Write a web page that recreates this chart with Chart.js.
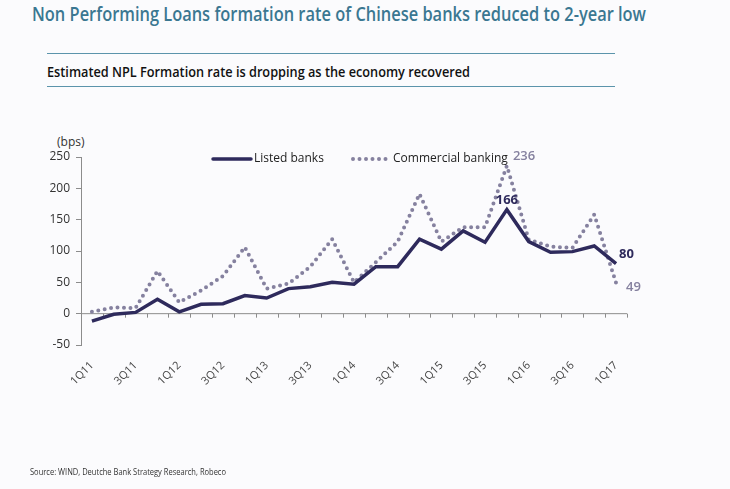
<!DOCTYPE html>
<html>
<head>
<meta charset="utf-8">
<script src="https://cdn.jsdelivr.net/npm/chart.js@4.4.1/dist/chart.umd.min.js"></script>
<style>
  html, body { margin: 0; padding: 0; background: #fbfbfd; }
  #wrap { position: relative; width: 730px; height: 489px; overflow: hidden; }
  #chart { position: absolute; left: 0; top: 0; }
  .fit { position: absolute; white-space: nowrap; transform-origin: 0 0; font-family: "Open Sans", sans-serif; }
  .title { left: 32px; top: 1px; font-size: 19px; font-weight: 600; color: #3a7791; }
  .rule { position: absolute; left: 47px; width: 568px; height: 0; border-top: 1px solid #5b94ab; }
  .subtitle { left: 47px; top: 62px; font-size: 14px; font-weight: 600; color: #111; }
  .unit { position: absolute; left: 57px; top: 133px; font-family: "Open Sans", sans-serif; font-size: 12px; color: #333; }
  .source { left: 30px; top: 465px; font-size: 9px; color: #333; }
</style>
</head>
<body>
<div id="wrap">
  <div class="fit title" data-w="614">Non Performing Loans formation rate of Chinese banks reduced to 2-year low</div>
  <div class="rule" style="top:53px"></div>
  <div class="fit subtitle" data-w="423">Estimated NPL Formation rate is dropping as the economy recovered</div>
  <div class="rule" style="top:86px"></div>
  <div class="unit">(bps)</div>
  <canvas id="chart" width="730" height="489"></canvas>
  <div class="fit source" data-w="196">Source: WIND, Deutche Bank Strategy Research, Robeco</div>
</div>
<script>
// squeeze the condensed headings to their widths
document.querySelectorAll('.fit').forEach(el => {
  const w = el.getBoundingClientRect().width;
  el.style.transform = 'scaleX(' + (el.dataset.w / w) + ')';
});

// categories (quarters)
const quarters = ['1Q11','2Q11','3Q11','4Q11','1Q12','2Q12','3Q12','4Q12','1Q13','2Q13','3Q13','4Q13',
                  '1Q14','2Q14','3Q14','4Q14','1Q15','2Q15','3Q15','4Q15','1Q16','2Q16','3Q16','4Q16','1Q17'];

// NPL formation rate, bps
const listedBanks = [-12, -1, 2, 23, 3, 15, 16, 29, 25, 40, 43, 50, 47, 75, 75, 119, 103, 132, 114, 166, 115, 98, 99, 108, 80];
const commercialBanking = [3, 10, 9, 68, 18, 37, 60, 106, 40, 48, 75, 119, 50, 82, 115, 191, 115, 138, 138, 236, 118, 107, 105, 158, 49];

// y axis ticks
const yTicks = [-50, 0, 50, 100, 150, 200, 250];

// labelled points: [dataset index, point index]
const callouts = [[0, 19], [0, 24], [1, 19], [1, 24]];

const navy = '#2e2a5c';
const lilac = '#85819f';
const axisGrey = '#8c8c8c';

// zero line with category ticks
const zeroAxis = {
  id: 'zeroAxis',
  beforeDatasetsDraw(chart) {
    const { ctx, chartArea, scales } = chart;
    const y0 = scales.y.getPixelForValue(0);
    const x = scales.x;
    ctx.save();
    ctx.strokeStyle = axisGrey;
    ctx.lineWidth = 1;
    ctx.beginPath();
    ctx.moveTo(chartArea.left, y0);
    ctx.lineTo(chartArea.right, y0);
    const half = (x.getPixelForValue(1) - x.getPixelForValue(0)) / 2;
    for (let i = 0; i <= quarters.length; i++) {
      const px = Math.round(x.getPixelForValue(i) - half) + 0.5;
      ctx.moveTo(px, y0);
      ctx.lineTo(px, y0 + 4);
    }
    ctx.stroke();
    ctx.restore();
  }
};

// legend and value labels
const annotate = {
  id: 'annotate',
  afterDatasetsDraw(chart) {
    const { ctx, chartArea } = chart;
    const ds = chart.data.datasets;
    ctx.save();
    // legend
    const ly = chartArea.top + 2;
    ctx.font = '12px "Open Sans", sans-serif';
    ctx.fillStyle = '#222';
    ctx.textBaseline = 'middle';
    ctx.lineCap = 'round';
    ctx.strokeStyle = ds[0].borderColor;
    ctx.lineWidth = ds[0].borderWidth;
    ctx.beginPath();
    ctx.moveTo(chartArea.left + 132, ly);
    ctx.lineTo(chartArea.left + 170, ly);
    ctx.stroke();
    ctx.fillText(ds[0].label, chartArea.left + 173, ly);
    ctx.strokeStyle = ds[1].borderColor;
    ctx.lineWidth = ds[1].borderWidth;
    ctx.setLineDash(ds[1].borderDash);
    ctx.beginPath();
    ctx.moveTo(chartArea.left + 272, ly);
    ctx.lineTo(chartArea.left + 309, ly);
    ctx.stroke();
    ctx.setLineDash([]);
    ctx.fillText(ds[1].label, chartArea.left + 312, ly);

    // value callouts
    callouts.forEach(([d, i]) => {
      const pt = chart.getDatasetMeta(d).data[i];
      const v = String(ds[d].data[i]);
      ctx.font = (d === 0 ? 'bold' : '600') + ' 13px "Open Sans", sans-serif';
      ctx.fillStyle = d === 0 ? navy : lilac;
      const last = i === quarters.length - 1;
      if (d === 0 && !last) {
        ctx.textAlign = 'center';
        ctx.fillText(v, pt.x, pt.y - 9);
      } else if (d === 0) {
        ctx.textAlign = 'left';
        ctx.fillText(v, pt.x + 3, pt.y - 9);
      } else if (!last) {
        ctx.textAlign = 'left';
        ctx.fillText(v, pt.x + 6, pt.y - 9);
      } else {
        ctx.textAlign = 'left';
        ctx.fillText(v, pt.x + 10, pt.y + 4);
      }
    });
    ctx.restore();
  }
};

new Chart(document.getElementById('chart'), {
  type: 'line',
  data: {
    labels: quarters,
    datasets: [{
      label: 'Listed banks',
      data: listedBanks,
      borderColor: navy,
      borderWidth: 3.5,
      pointRadius: 0,
      tension: 0
    }, {
      label: 'Commercial banking',
      data: commercialBanking,
      borderColor: lilac,
      borderWidth: 4,
      borderDash: [0, 6.5],
      borderCapStyle: 'round',
      pointRadius: 0,
      tension: 0
    }]
  },
  options: {
    responsive: false,
    animation: false,
    layout: { padding: { left: 31, right: 103, top: 157, bottom: 84 } },
    plugins: { legend: { display: false }, tooltip: { enabled: false } },
    scales: {
      x: {
        offset: true,
        grid: { display: false },
        border: { display: false },
        afterFit(scale) { scale.height = 60; },
        ticks: {
          autoSkip: false,
          minRotation: 45,
          maxRotation: 45,
          padding: 6,
          color: '#444',
          font: { family: 'Open Sans', size: 11 },
          callback: (v, i) => (i % 2 === 0 ? quarters[i] : '')
        }
      },
      y: {
        min: yTicks[0],
        max: yTicks[yTicks.length - 1],
        afterFit(scale) { scale.width = 50; },
        afterBuildTicks(scale) { scale.ticks = yTicks.map(v => ({ value: v })); },
        grid: { drawOnChartArea: false, tickLength: 5, color: axisGrey },
        border: { color: axisGrey },
        ticks: {
          padding: 6,
          color: '#333',
          font: { family: 'Open Sans', size: 12 }
        }
      }
    }
  },
  plugins: [zeroAxis, annotate]
});
</script>
</body>
</html>
